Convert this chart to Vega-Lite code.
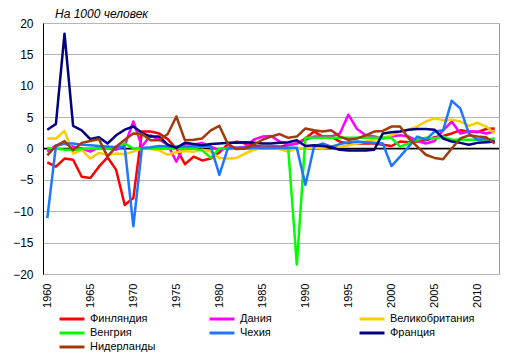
{
  "$schema": "https://vega.github.io/schema/vega-lite/v6.json",
  "width": 456,
  "height": 251,
  "autosize": {"type": "none"},
  "padding": {"left": 43, "top": 23, "right": 15, "bottom": 82},
  "background": "white",
  "title": {"text": "На 1000 человек", "anchor": "start", "frame": "group", "fontStyle": "italic", "fontWeight": "normal", "fontSize": 12, "font": "Liberation Sans", "color": "black", "dx": 12, "dy": 9, "offset": 5},
  "config": {
    "view": {"stroke": "#9a9a9a", "strokeWidth": 1},
    "axis": {"labelFont": "Liberation Sans", "labelColor": "black", "title": null},
    "legend": {"labelFont": "Liberation Sans", "labelColor": "black"}
  },
  "datasets": {
    "zero": [{"zero": 0}]
  },
  "data": {"values": [
    {"year":1960,"country":"Финляндия","value":-2.2},{"year":1961,"country":"Финляндия","value":-2.9},{"year":1962,"country":"Финляндия","value":-1.6},{"year":1963,"country":"Финляндия","value":-1.8},{"year":1964,"country":"Финляндия","value":-4.5},{"year":1965,"country":"Финляндия","value":-4.7},{"year":1966,"country":"Финляндия","value":-2.9},{"year":1967,"country":"Финляндия","value":-1.4},{"year":1968,"country":"Финляндия","value":-3.4},{"year":1969,"country":"Финляндия","value":-9.0},
    {"year":1970,"country":"Финляндия","value":-7.9},{"year":1971,"country":"Финляндия","value":2.7},{"year":1972,"country":"Финляндия","value":2.7},{"year":1973,"country":"Финляндия","value":2.4},{"year":1974,"country":"Финляндия","value":1.5},{"year":1975,"country":"Финляндия","value":0.0},{"year":1976,"country":"Финляндия","value":-2.5},{"year":1977,"country":"Финляндия","value":-1.3},{"year":1978,"country":"Финляндия","value":-1.9},{"year":1979,"country":"Финляндия","value":-1.6},
    {"year":1980,"country":"Финляндия","value":-0.6},{"year":1981,"country":"Финляндия","value":0.7},{"year":1982,"country":"Финляндия","value":1.1},{"year":1983,"country":"Финляндия","value":0.8},{"year":1984,"country":"Финляндия","value":0.4},{"year":1985,"country":"Финляндия","value":0.3},{"year":1986,"country":"Финляндия","value":0.3},{"year":1987,"country":"Финляндия","value":0.3},{"year":1988,"country":"Финляндия","value":0.5},{"year":1989,"country":"Финляндия","value":0.8},
    {"year":1990,"country":"Финляндия","value":1.6},{"year":1991,"country":"Финляндия","value":2.7},{"year":1992,"country":"Финляндия","value":1.9},{"year":1993,"country":"Финляндия","value":1.9},{"year":1994,"country":"Финляндия","value":1.1},{"year":1995,"country":"Финляндия","value":0.8},{"year":1996,"country":"Финляндия","value":0.8},{"year":1997,"country":"Финляндия","value":0.8},{"year":1998,"country":"Финляндия","value":0.8},{"year":1999,"country":"Финляндия","value":0.6},
    {"year":2000,"country":"Финляндия","value":0.4},{"year":2001,"country":"Финляндия","value":1.1},{"year":2002,"country":"Финляндия","value":1.0},{"year":2003,"country":"Финляндия","value":1.1},{"year":2004,"country":"Финляндия","value":1.3},{"year":2005,"country":"Финляндия","value":1.8},{"year":2006,"country":"Финляндия","value":2.0},{"year":2007,"country":"Финляндия","value":2.4},{"year":2008,"country":"Финляндия","value":2.9},{"year":2009,"country":"Финляндия","value":2.7},
    {"year":2010,"country":"Финляндия","value":2.6},{"year":2011,"country":"Финляндия","value":3.1},{"year":2012,"country":"Финляндия","value":3.2},

    {"year":1960,"country":"Дания","value":-0.5},{"year":1961,"country":"Дания","value":0.5},{"year":1962,"country":"Дания","value":0.8},{"year":1963,"country":"Дания","value":0.3},{"year":1964,"country":"Дания","value":0.0},{"year":1965,"country":"Дания","value":-0.5},{"year":1966,"country":"Дания","value":0.2},{"year":1967,"country":"Дания","value":0.2},{"year":1968,"country":"Дания","value":-0.2},{"year":1969,"country":"Дания","value":0.5},
    {"year":1970,"country":"Дания","value":4.3},{"year":1971,"country":"Дания","value":0.3},{"year":1972,"country":"Дания","value":2.1},{"year":1973,"country":"Дания","value":1.4},{"year":1974,"country":"Дания","value":0.6},{"year":1975,"country":"Дания","value":-2.1},{"year":1976,"country":"Дания","value":0.8},{"year":1977,"country":"Дания","value":0.6},{"year":1978,"country":"Дания","value":0.9},{"year":1979,"country":"Дания","value":0.3},
    {"year":1980,"country":"Дания","value":-0.3},{"year":1981,"country":"Дания","value":0.1},{"year":1982,"country":"Дания","value":0.1},{"year":1983,"country":"Дания","value":0.3},{"year":1984,"country":"Дания","value":1.4},{"year":1985,"country":"Дания","value":1.9},{"year":1986,"country":"Дания","value":2.0},{"year":1987,"country":"Дания","value":1.1},{"year":1988,"country":"Дания","value":0.6},{"year":1989,"country":"Дания","value":0.8},
    {"year":1990,"country":"Дания","value":1.4},{"year":1991,"country":"Дания","value":1.9},{"year":1992,"country":"Дания","value":1.9},{"year":1993,"country":"Дания","value":1.9},{"year":1994,"country":"Дания","value":2.4},{"year":1995,"country":"Дания","value":5.4},{"year":1996,"country":"Дания","value":3.1},{"year":1997,"country":"Дания","value":2.1},{"year":1998,"country":"Дания","value":1.9},{"year":1999,"country":"Дания","value":1.6},
    {"year":2000,"country":"Дания","value":1.9},{"year":2001,"country":"Дания","value":2.1},{"year":2002,"country":"Дания","value":1.9},{"year":2003,"country":"Дания","value":1.2},{"year":2004,"country":"Дания","value":0.8},{"year":2005,"country":"Дания","value":1.2},{"year":2006,"country":"Дания","value":2.9},{"year":2007,"country":"Дания","value":4.3},{"year":2008,"country":"Дания","value":2.4},{"year":2009,"country":"Дания","value":2.7},
    {"year":2010,"country":"Дания","value":2.7},{"year":2011,"country":"Дания","value":2.4},{"year":2012,"country":"Дания","value":2.7},

    {"year":1960,"country":"Великобритания","value":1.6},{"year":1961,"country":"Великобритания","value":1.6},{"year":1962,"country":"Великобритания","value":2.8},{"year":1963,"country":"Великобритания","value":-0.8},{"year":1964,"country":"Великобритания","value":-0.2},{"year":1965,"country":"Великобритания","value":-1.6},{"year":1966,"country":"Великобритания","value":-0.7},{"year":1967,"country":"Великобритания","value":-1.0},{"year":1968,"country":"Великобритания","value":-0.8},{"year":1969,"country":"Великобритания","value":-0.9},
    {"year":1970,"country":"Великобритания","value":-0.5},{"year":1971,"country":"Великобритания","value":0.0},{"year":1972,"country":"Великобритания","value":-0.1},{"year":1973,"country":"Великобритания","value":-0.3},{"year":1974,"country":"Великобритания","value":-1.0},{"year":1975,"country":"Великобритания","value":-0.6},{"year":1976,"country":"Великобритания","value":-0.4},{"year":1977,"country":"Великобритания","value":-0.5},{"year":1978,"country":"Великобритания","value":-0.2},{"year":1979,"country":"Великобритания","value":-0.5},
    {"year":1980,"country":"Великобритания","value":-1.5},{"year":1981,"country":"Великобритания","value":-1.6},{"year":1982,"country":"Великобритания","value":-1.5},{"year":1983,"country":"Великобритания","value":-0.8},{"year":1984,"country":"Великобритания","value":-0.2},{"year":1985,"country":"Великобритания","value":0.1},{"year":1986,"country":"Великобритания","value":0.0},{"year":1987,"country":"Великобритания","value":-0.1},{"year":1988,"country":"Великобритания","value":-0.5},{"year":1989,"country":"Великобритания","value":0.0},
    {"year":1990,"country":"Великобритания","value":0.0},{"year":1991,"country":"Великобритания","value":0.1},{"year":1992,"country":"Великобритания","value":0.0},{"year":1993,"country":"Великобритания","value":0.3},{"year":1994,"country":"Великобритания","value":0.3},{"year":1995,"country":"Великобритания","value":0.5},{"year":1996,"country":"Великобритания","value":0.8},{"year":1997,"country":"Великобритания","value":1.1},{"year":1998,"country":"Великобритания","value":1.4},{"year":1999,"country":"Великобритания","value":1.7},
    {"year":2000,"country":"Великобритания","value":2.1},{"year":2001,"country":"Великобритания","value":2.7},{"year":2002,"country":"Великобритания","value":3.0},{"year":2003,"country":"Великобритания","value":3.5},{"year":2004,"country":"Великобритания","value":4.3},{"year":2005,"country":"Великобритания","value":4.8},{"year":2006,"country":"Великобритания","value":4.5},{"year":2007,"country":"Великобритания","value":4.6},{"year":2008,"country":"Великобритания","value":4.3},{"year":2009,"country":"Великобритания","value":3.6},
    {"year":2010,"country":"Великобритания","value":4.1},{"year":2011,"country":"Великобритания","value":3.5},{"year":2012,"country":"Великобритания","value":2.4},

    {"year":1960,"country":"Венгрия","value":0.1},{"year":1961,"country":"Венгрия","value":0.0},{"year":1962,"country":"Венгрия","value":-0.2},{"year":1963,"country":"Венгрия","value":-0.2},{"year":1964,"country":"Венгрия","value":-0.1},{"year":1965,"country":"Венгрия","value":0.0},{"year":1966,"country":"Венгрия","value":0.0},{"year":1967,"country":"Венгрия","value":0.0},{"year":1968,"country":"Венгрия","value":0.3},{"year":1969,"country":"Венгрия","value":0.8},
    {"year":1970,"country":"Венгрия","value":0.0},{"year":1971,"country":"Венгрия","value":0.0},{"year":1972,"country":"Венгрия","value":0.0},{"year":1973,"country":"Венгрия","value":0.0},{"year":1974,"country":"Венгрия","value":0.0},{"year":1975,"country":"Венгрия","value":0.0},{"year":1976,"country":"Венгрия","value":0.0},{"year":1977,"country":"Венгрия","value":0.0},{"year":1978,"country":"Венгрия","value":-0.3},{"year":1979,"country":"Венгрия","value":-1.5},
    {"year":1980,"country":"Венгрия","value":0.0},{"year":1981,"country":"Венгрия","value":0.0},{"year":1982,"country":"Венгрия","value":0.0},{"year":1983,"country":"Венгрия","value":0.0},{"year":1984,"country":"Венгрия","value":0.0},{"year":1985,"country":"Венгрия","value":0.0},{"year":1986,"country":"Венгрия","value":0.0},{"year":1987,"country":"Венгрия","value":0.0},{"year":1988,"country":"Венгрия","value":0.0},{"year":1989,"country":"Венгрия","value":-18.5},
    {"year":1990,"country":"Венгрия","value":1.7},{"year":1991,"country":"Венгрия","value":1.7},{"year":1992,"country":"Венгрия","value":1.7},{"year":1993,"country":"Венгрия","value":1.7},{"year":1994,"country":"Венгрия","value":1.7},{"year":1995,"country":"Венгрия","value":1.7},{"year":1996,"country":"Венгрия","value":1.7},{"year":1997,"country":"Венгрия","value":1.7},{"year":1998,"country":"Венгрия","value":1.7},{"year":1999,"country":"Венгрия","value":1.7},
    {"year":2000,"country":"Венгрия","value":1.7},{"year":2001,"country":"Венгрия","value":0.3},{"year":2002,"country":"Венгрия","value":0.8},{"year":2003,"country":"Венгрия","value":1.4},{"year":2004,"country":"Венгрия","value":1.7},{"year":2005,"country":"Венгрия","value":1.6},{"year":2006,"country":"Венгрия","value":1.9},{"year":2007,"country":"Венгрия","value":1.4},{"year":2008,"country":"Венгрия","value":1.4},{"year":2009,"country":"Венгрия","value":1.4},
    {"year":2010,"country":"Венгрия","value":1.4},{"year":2011,"country":"Венгрия","value":1.4},{"year":2012,"country":"Венгрия","value":1.6},

    {"year":1960,"country":"Чехия","value":-11.1},{"year":1961,"country":"Чехия","value":0.4},{"year":1962,"country":"Чехия","value":0.8},{"year":1963,"country":"Чехия","value":0.8},{"year":1964,"country":"Чехия","value":0.6},{"year":1965,"country":"Чехия","value":0.5},{"year":1966,"country":"Чехия","value":0.4},{"year":1967,"country":"Чехия","value":0.3},{"year":1968,"country":"Чехия","value":0.2},{"year":1969,"country":"Чехия","value":0.2},
    {"year":1970,"country":"Чехия","value":-12.4},{"year":1971,"country":"Чехия","value":0.1},{"year":1972,"country":"Чехия","value":0.2},{"year":1973,"country":"Чехия","value":0.4},{"year":1974,"country":"Чехия","value":0.3},{"year":1975,"country":"Чехия","value":0.3},{"year":1976,"country":"Чехия","value":0.3},{"year":1977,"country":"Чехия","value":0.3},{"year":1978,"country":"Чехия","value":0.3},{"year":1979,"country":"Чехия","value":0.3},
    {"year":1980,"country":"Чехия","value":-4.2},{"year":1981,"country":"Чехия","value":0.1},{"year":1982,"country":"Чехия","value":0.1},{"year":1983,"country":"Чехия","value":0.1},{"year":1984,"country":"Чехия","value":0.1},{"year":1985,"country":"Чехия","value":0.1},{"year":1986,"country":"Чехия","value":0.1},{"year":1987,"country":"Чехия","value":0.1},{"year":1988,"country":"Чехия","value":0.1},{"year":1989,"country":"Чехия","value":0.1},
    {"year":1990,"country":"Чехия","value":-5.8},{"year":1991,"country":"Чехия","value":0.3},{"year":1992,"country":"Чехия","value":0.8},{"year":1993,"country":"Чехия","value":0.3},{"year":1994,"country":"Чехия","value":0.7},{"year":1995,"country":"Чехия","value":1.0},{"year":1996,"country":"Чехия","value":1.1},{"year":1997,"country":"Чехия","value":1.0},{"year":1998,"country":"Чехия","value":0.9},{"year":1999,"country":"Чехия","value":0.8},
    {"year":2000,"country":"Чехия","value":-2.8},{"year":2001,"country":"Чехия","value":-1.3},{"year":2002,"country":"Чехия","value":0.3},{"year":2003,"country":"Чехия","value":1.9},{"year":2004,"country":"Чехия","value":1.4},{"year":2005,"country":"Чехия","value":2.7},{"year":2006,"country":"Чехия","value":2.9},{"year":2007,"country":"Чехия","value":7.6},{"year":2008,"country":"Чехия","value":6.4},{"year":2009,"country":"Чехия","value":2.4},
    {"year":2010,"country":"Чехия","value":1.4},{"year":2011,"country":"Чехия","value":1.5},{"year":2012,"country":"Чехия","value":1.1},

    {"year":1960,"country":"Франция","value":3.0},{"year":1961,"country":"Франция","value":3.9},{"year":1962,"country":"Франция","value":18.3},{"year":1963,"country":"Франция","value":3.6},{"year":1964,"country":"Франция","value":2.9},{"year":1965,"country":"Франция","value":1.5},{"year":1966,"country":"Франция","value":1.8},{"year":1967,"country":"Франция","value":0.8},{"year":1968,"country":"Франция","value":2.1},{"year":1969,"country":"Франция","value":3.0},
    {"year":1970,"country":"Франция","value":3.5},{"year":1971,"country":"Франция","value":2.5},{"year":1972,"country":"Франция","value":1.9},{"year":1973,"country":"Франция","value":1.9},{"year":1974,"country":"Франция","value":0.6},{"year":1975,"country":"Франция","value":0.1},{"year":1976,"country":"Франция","value":0.9},{"year":1977,"country":"Франция","value":0.7},{"year":1978,"country":"Франция","value":0.5},{"year":1979,"country":"Франция","value":0.7},
    {"year":1980,"country":"Франция","value":0.8},{"year":1981,"country":"Франция","value":0.9},{"year":1982,"country":"Франция","value":0.9},{"year":1983,"country":"Франция","value":1.0},{"year":1984,"country":"Франция","value":0.9},{"year":1985,"country":"Франция","value":0.8},{"year":1986,"country":"Франция","value":0.8},{"year":1987,"country":"Франция","value":0.9},{"year":1988,"country":"Франция","value":1.0},{"year":1989,"country":"Франция","value":1.3},
    {"year":1990,"country":"Франция","value":0.4},{"year":1991,"country":"Франция","value":0.5},{"year":1992,"country":"Франция","value":0.4},{"year":1993,"country":"Франция","value":0.2},{"year":1994,"country":"Франция","value":-0.2},{"year":1995,"country":"Франция","value":-0.3},{"year":1996,"country":"Франция","value":-0.3},{"year":1997,"country":"Франция","value":-0.3},{"year":1998,"country":"Франция","value":-0.2},{"year":1999,"country":"Франция","value":2.4},
    {"year":2000,"country":"Франция","value":2.6},{"year":2001,"country":"Франция","value":2.7},{"year":2002,"country":"Франция","value":3.0},{"year":2003,"country":"Франция","value":3.1},{"year":2004,"country":"Франция","value":3.1},{"year":2005,"country":"Франция","value":3.0},{"year":2006,"country":"Франция","value":1.6},{"year":2007,"country":"Франция","value":1.1},{"year":2008,"country":"Франция","value":0.9},{"year":2009,"country":"Франция","value":0.6},
    {"year":2010,"country":"Франция","value":0.9},{"year":2011,"country":"Франция","value":1.0},{"year":2012,"country":"Франция","value":1.1},

    {"year":1960,"country":"Нидерланды","value":-1.1},{"year":1961,"country":"Нидерланды","value":0.4},{"year":1962,"country":"Нидерланды","value":1.2},{"year":1963,"country":"Нидерланды","value":-0.3},{"year":1964,"country":"Нидерланды","value":0.9},{"year":1965,"country":"Нидерланды","value":1.2},{"year":1966,"country":"Нидерланды","value":1.5},{"year":1967,"country":"Нидерланды","value":-1.3},{"year":1968,"country":"Нидерланды","value":0.3},{"year":1969,"country":"Нидерланды","value":1.4},
    {"year":1970,"country":"Нидерланды","value":2.4},{"year":1971,"country":"Нидерланды","value":2.3},{"year":1972,"country":"Нидерланды","value":1.3},{"year":1973,"country":"Нидерланды","value":1.3},{"year":1974,"country":"Нидерланды","value":2.3},{"year":1975,"country":"Нидерланды","value":5.1},{"year":1976,"country":"Нидерланды","value":1.3},{"year":1977,"country":"Нидерланды","value":1.4},{"year":1978,"country":"Нидерланды","value":1.6},{"year":1979,"country":"Нидерланды","value":2.9},
    {"year":1980,"country":"Нидерланды","value":3.6},{"year":1981,"country":"Нидерланды","value":0.7},{"year":1982,"country":"Нидерланды","value":-0.1},{"year":1983,"country":"Нидерланды","value":0.0},{"year":1984,"country":"Нидерланды","value":0.6},{"year":1985,"country":"Нидерланды","value":1.4},{"year":1986,"country":"Нидерланды","value":1.9},{"year":1987,"country":"Нидерланды","value":2.3},{"year":1988,"country":"Нидерланды","value":1.7},{"year":1989,"country":"Нидерланды","value":1.9},
    {"year":1990,"country":"Нидерланды","value":3.2},{"year":1991,"country":"Нидерланды","value":2.9},{"year":1992,"country":"Нидерланды","value":2.7},{"year":1993,"country":"Нидерланды","value":2.9},{"year":1994,"country":"Нидерланды","value":1.9},{"year":1995,"country":"Нидерланды","value":1.4},{"year":1996,"country":"Нидерланды","value":1.6},{"year":1997,"country":"Нидерланды","value":2.1},{"year":1998,"country":"Нидерланды","value":2.7},{"year":1999,"country":"Нидерланды","value":2.8},
    {"year":2000,"country":"Нидерланды","value":3.5},{"year":2001,"country":"Нидерланды","value":3.5},{"year":2002,"country":"Нидерланды","value":1.6},{"year":2003,"country":"Нидерланды","value":0.3},{"year":2004,"country":"Нидерланды","value":-1.0},{"year":2005,"country":"Нидерланды","value":-1.5},{"year":2006,"country":"Нидерланды","value":-1.7},{"year":2007,"country":"Нидерланды","value":0.0},{"year":2008,"country":"Нидерланды","value":1.6},{"year":2009,"country":"Нидерланды","value":2.1},
    {"year":2010,"country":"Нидерланды","value":1.9},{"year":2011,"country":"Нидерланды","value":1.8},{"year":2012,"country":"Нидерланды","value":0.8}
  ]},
  "layer": [
    {
      "data": {"name": "zero"},
      "mark": {"type": "rule", "color": "black", "strokeWidth": 1.5},
      "encoding": {
        "y": {
          "field": "zero", "type": "quantitative",
          "scale": {"domain": [-20, 20], "nice": false, "zero": false},
          "axis": {
            "values": [-20, -15, -10, -5, 0, 5, 10, 15, 20],
            "labelOverlap": false,
            "labelFontSize": 12, "labelPadding": 10, "ticks": false, "tickSize": 0,
            "domain": true, "domainColor": "black", "domainWidth": 1,
            "grid": true, "gridColor": "#b4b4b4", "gridWidth": 1
          }
        }
      }
    },
    {
      "mark": {"type": "line", "strokeWidth": 2.5, "strokeJoin": "round", "strokeCap": "butt"},
      "encoding": {
        "x": {
          "field": "year", "type": "ordinal", "sort": "ascending",
          "scale": {"type": "point", "padding": 0.5},
          "axis": {
            "values": [1960, 1965, 1970, 1975, 1980, 1985, 1990, 1995, 2000, 2005, 2010],
            "labelAngle": -90, "labelFontSize": 11, "labelPadding": 9,
            "ticks": false, "tickSize": 0, "domain": false, "grid": false
          }
        },
        "y": {
          "field": "value", "type": "quantitative",
          "scale": {"domain": [-20, 20], "nice": false, "zero": false},
          "axis": {
            "values": [-20, -15, -10, -5, 0, 5, 10, 15, 20],
            "labelOverlap": false,
            "labelFontSize": 12, "labelPadding": 10, "ticks": false, "tickSize": 0,
            "domain": true, "domainColor": "black", "domainWidth": 1,
            "grid": true, "gridColor": "#b4b4b4", "gridWidth": 1
          }
        },
        "color": {
          "field": "country", "type": "nominal",
          "scale": {
            "domain": ["Финляндия", "Дания", "Великобритания", "Венгрия", "Чехия", "Франция", "Нидерланды"],
            "range": ["#FF0000", "#FF00FF", "#FFCC00", "#00FF00", "#1E78FF", "#000080", "#A33A0A"]
          },
          "legend": {
            "title": null, "orient": "none", "legendX": 21, "legendY": 288,
            "columns": 3, "direction": "horizontal", "gridAlign": "all",
            "columnPadding": 28, "rowPadding": -2.5, "padding": 0,
            "symbolType": "M-2,0H2", "symbolSize": 156, "symbolStrokeWidth": 3,
            "labelFontSize": 11, "labelOffset": 10, "labelLimit": 200
          }
        }
      }
    }
  ]
}
